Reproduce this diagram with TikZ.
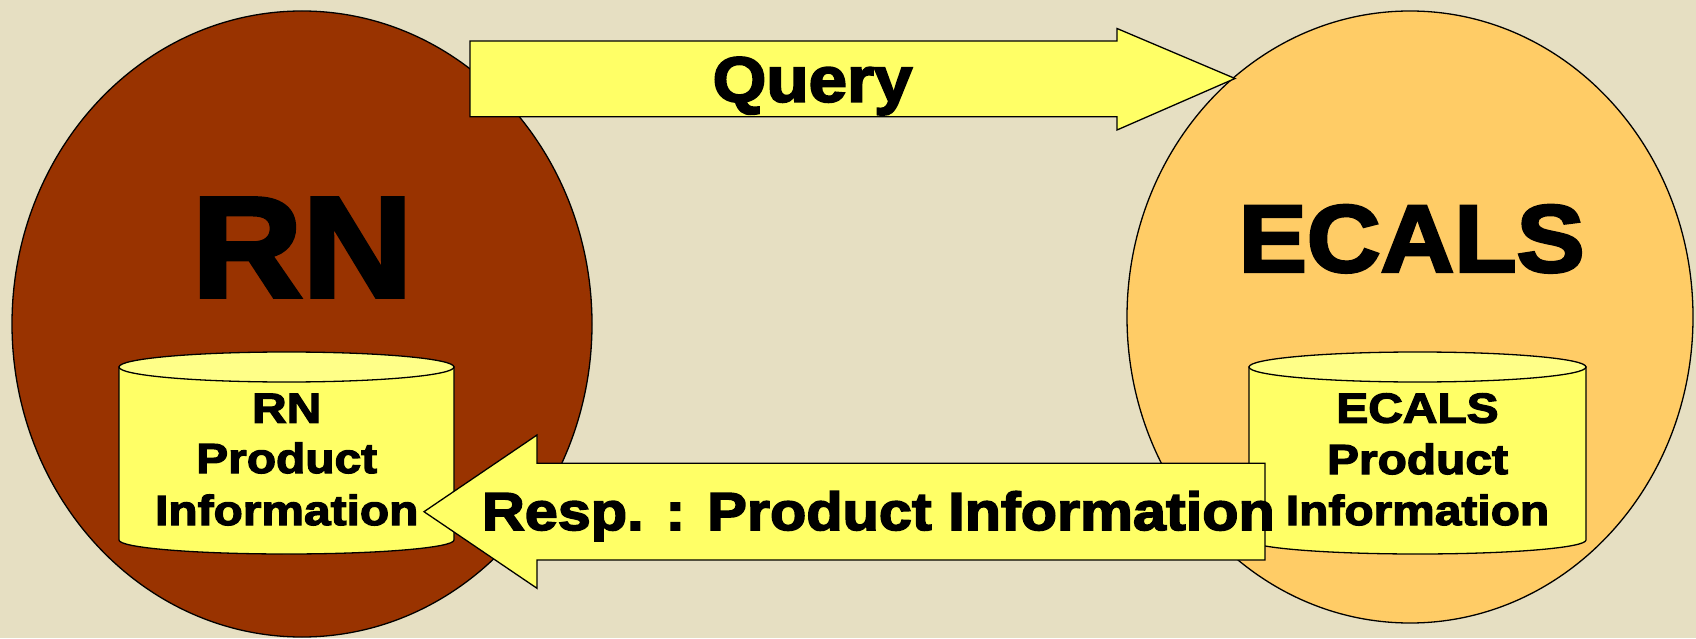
\documentclass[tikz,border=0pt]{standalone}
\usepackage{fontspec}
\setmainfont{Liberation Sans}
\newfontfamily\fbigrn{Liberation Sans}[FakeStretch=1.07, BoldFeatures={FakeBold=3}]
\newfontfamily\fbigec{Liberation Sans}[FakeStretch=1.07, BoldFeatures={FakeBold=3}]
\newfontfamily\fquery{Liberation Sans}[FakeStretch=1.08, BoldFeatures={FakeBold=3}]
\newfontfamily\fresp{Liberation Sans}[FakeStretch=1.11, BoldFeatures={FakeBold=3}]
\newfontfamily\fdb{Liberation Sans}[FakeStretch=1.14, BoldFeatures={FakeBold=3}]
\usetikzlibrary{shapes.geometric}
\definecolor{bgbeige}{HTML}{E6DFC2}
\definecolor{rnbrown}{HTML}{993300}
\definecolor{ecorange}{HTML}{FFCC66}
\definecolor{arrowyellow}{HTML}{FFFF66}
\definecolor{dbtop}{HTML}{FFFF88}
\tikzset{
  outline/.style={draw=black, line width=1.3pt, line join=miter},
  bigcircle/.style={ellipse, outline, inner sep=0pt, outer sep=0pt},
  blockarrow/.style={outline, fill=arrowyellow},
  dbbody/.style={outline, fill=arrowyellow},
  dbcap/.style={outline, fill=dbtop},
  dbline/.style={anchor=base, inner sep=0pt, font=\fdb\bfseries\fontsize{42}{42}\selectfont},
}
\begin{document}
\begin{tikzpicture}[x=1pt,y=1pt]
\useasboundingbox (0,0) rectangle (1696,638);
\fill[bgbeige] (0,0) rectangle (1696,638);

% circles
\node[bigcircle, fill=rnbrown, minimum width=580pt, minimum height=626pt] (rn) at (302,314) {};
\node[bigcircle, fill=ecorange, minimum width=566pt, minimum height=612pt] (ecals) at (1410,321) {};

\node[anchor=base, inner sep=0pt, font=\fbigrn\bfseries\fontsize{143}{143}\selectfont] (rnlabel) at (302.4,341.3) {RN};
\node[anchor=base, inner sep=0pt, font=\fbigec\bfseries\fontsize{95.4}{95.4}\selectfont] (eclabel) at (1411.7,366.3) {ECALS};

% RN database cylinder
\path[dbbody] (119,271) -- (119,98) arc[start angle=180, end angle=360, x radius=167.5, y radius=14] -- (454,271) -- cycle;
\path[dbcap] (286.5,271) ellipse[x radius=167.5, y radius=15];
\coordinate (rndb) at (286.5,180);
\node[dbline] (rndb1) at (286.7,215.3) {RN};
\node[dbline] (rndb2) at (286.7,165) {Product};
\node[dbline] (rndb3) at (286.7,113) {Information};

% ECALS database cylinder
\path[dbbody] (1249,271) -- (1249,98) arc[start angle=180, end angle=360, x radius=168.5, y radius=14] -- (1586,271) -- cycle;
\path[dbcap] (1417.5,271) ellipse[x radius=168.5, y radius=15];
\coordinate (ecdb) at (1417.5,180);
\node[dbline] (ecdb1) at (1417.5,215.3) {ECALS};
\node[dbline] (ecdb2) at (1417.5,164) {Product};
\node[dbline] (ecdb3) at (1417.5,113) {Information};

% Query arrow
\path[blockarrow] (470,597) -- (1117,597) -- (1117,609.5) -- (1235,559.5) -- (1117,508) -- (1117,521.3) -- (470,521.3) -- cycle;
\node[anchor=base, inner sep=0pt, font=\fquery\bfseries\fontsize{64}{64}\selectfont] (query) at (812.5,536.3) {Query};

% Response arrow
\path[blockarrow] (424,126.3) -- (537,203) -- (537,174.7) -- (1265,174.7) -- (1265,78) -- (537,78) -- (537,49.7) -- cycle;
\node[anchor=base west, inner sep=0pt, font=\fresp\bfseries\fontsize{53.5}{53.5}\selectfont] (resp) at (481.7,108) {Resp. : Product Information};
\end{tikzpicture}
\end{document}
